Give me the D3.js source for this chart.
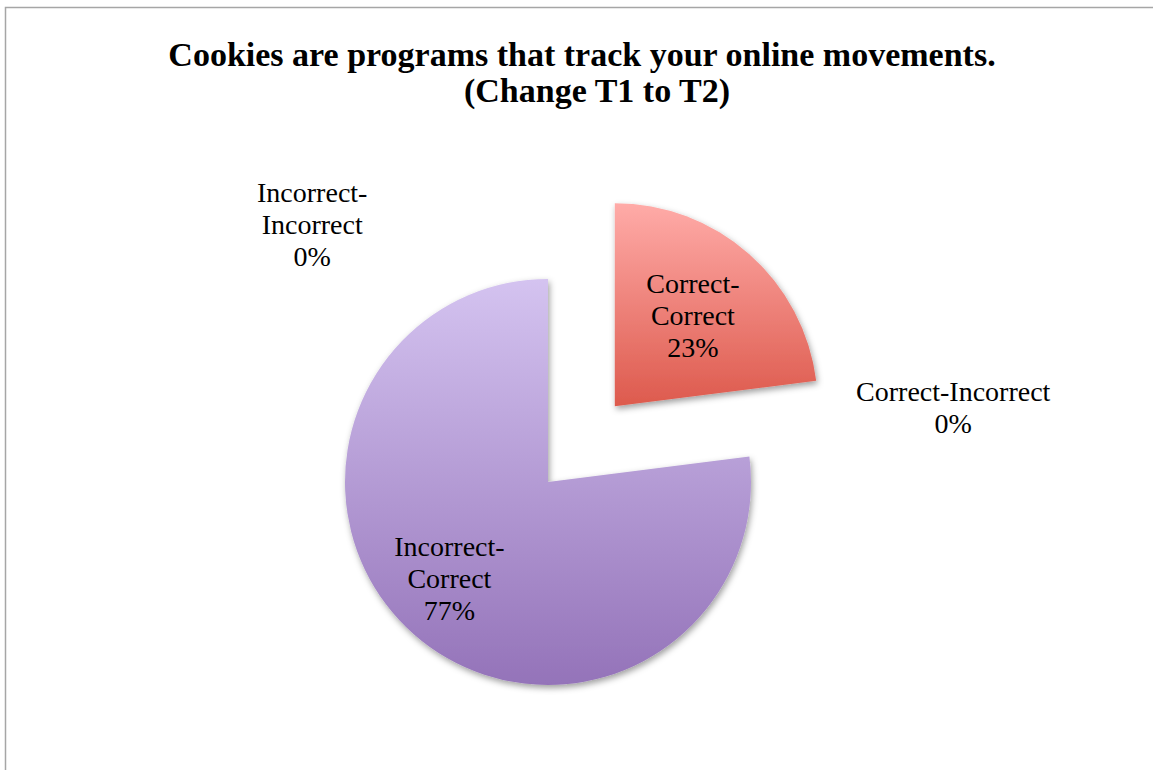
<!DOCTYPE html>
<html>
<head>
<meta charset="utf-8">
<script src="https://cdn.jsdelivr.net/npm/d3@7"></script>
<style>
  html, body { margin: 0; padding: 0; background: #fff; }
  svg { display: block; }
</style>
</head>
<body>
<svg id="chart" width="1153" height="770"></svg>
<script>
// Outcome categories (answer at T1 - answer at T2) and their shares in percent
const categories = ["Correct-Correct", "Correct-Incorrect", "Incorrect-Correct", "Incorrect-Incorrect"];
const shares = [23, 0, 77, 0];
const titleLines = ["Cookies are programs that track your online movements.", "(Change T1 to T2)"];

const W = 1153, H = 770;
const svg = d3.select("#chart");
const serif = "'Liberation Serif', 'DejaVu Serif', serif";

// Frame (only the top and left edges fall inside the view)
svg.append("path")
  .attr("d", `M5.5,${H} L5.5,7.5 L${W},7.5`)
  .attr("fill", "none")
  .attr("stroke", "#a6a6a6")
  .attr("stroke-width", 1.5);

// Title
const title = svg.append("g")
  .attr("font-family", serif)
  .attr("font-weight", "bold")
  .attr("font-size", 34)
  .attr("fill", "#000")
  .attr("text-anchor", "middle");
title.append("text").attr("x", 582).attr("y", 66).text(titleLines[0]);
title.append("text").attr("x", 597).attr("y", 102).text(titleLines[1]);

// Gradients and shadow
const defs = svg.append("defs");
const fills = {
  "Correct-Correct": ["#ffaba8", "#dd5a4d"],
  "Correct-Incorrect": ["#a9c6ef", "#5b87c9"],
  "Incorrect-Correct": ["#d4c3f0", "#9473b9"],
  "Incorrect-Incorrect": ["#c6e2a2", "#8fb85a"]
};
categories.forEach((c, i) => {
  const g = defs.append("linearGradient")
    .attr("id", "grad" + i)
    .attr("x1", 0).attr("y1", 0).attr("x2", 0).attr("y2", 1);
  g.append("stop").attr("offset", "0%").attr("stop-color", fills[c][0]);
  g.append("stop").attr("offset", "100%").attr("stop-color", fills[c][1]);
});
const shadow = defs.append("filter").attr("id", "shadow")
  .attr("x", "-20%").attr("y", "-20%").attr("width", "140%").attr("height", "140%");
shadow.append("feDropShadow")
  .attr("dx", 1.5).attr("dy", 3).attr("stdDeviation", 3)
  .attr("flood-color", "#000").attr("flood-opacity", 0.38);

// Pie layout: first slice starts at 12 o'clock, clockwise, no sorting
const cx = 548, cy = 482, R = 203;
const data = categories.map((c, i) => ({ name: c, value: shares[i], idx: i }));
const pie = d3.pie().value(d => d.value).sort(null);
const arcs = pie(data);
const arc = d3.arc().innerRadius(0).outerRadius(R);

// Exploded distance per category (the Correct-Correct slice is pulled out)
const explode = { "Correct-Correct": 101 };
function offset(a) {
  const e = explode[a.data.name] || 0;
  const mid = (a.startAngle + a.endAngle) / 2;
  return [Math.sin(mid) * e, -Math.cos(mid) * e];
}

const g = svg.append("g").attr("transform", `translate(${cx},${cy})`);
g.selectAll("path.slice")
  .data(arcs.filter(a => a.value > 0))
  .join("path")
  .attr("class", "slice")
  .attr("d", arc)
  .attr("transform", a => `translate(${offset(a)})`)
  .attr("fill", a => `url(#grad${a.data.idx})`)
  .attr("filter", "url(#shadow)");

// Data labels: name (wrapped at the hyphen) and percentage
const fmt = v => d3.format(".0%")(v / d3.sum(shares));
function labelLines(a) {
  const name = a.data.name;
  const parts = name.split("-");
  if (a.value === 0 && a.data.name === "Correct-Incorrect") return [name, fmt(a.value)];
  return [parts[0] + "-", parts[1], fmt(a.value)];
}
// Label placement: polar position (radius, angle in degrees from 12 o'clock)
const labelPos = {
  "Correct-Correct": [119, 41],
  "Correct-Incorrect": [412, 79.6],
  "Incorrect-Correct": [138, 225.6],
  "Incorrect-Incorrect": [349, 317.5]
};
const lineH = 32;
const labels = g.selectAll("text.lbl")
  .data(arcs)
  .join("text")
  .attr("class", "lbl")
  .attr("font-family", serif)
  .attr("font-size", 28)
  .attr("fill", "#000")
  .attr("text-anchor", "middle")
  .each(function(a) {
    const [r, deg] = labelPos[a.data.name];
    const th = deg * Math.PI / 180;
    const [ox, oy] = offset(a);
    const x = ox + Math.sin(th) * r;
    const y = oy - Math.cos(th) * r;
    const lines = labelLines(a);
    const y0 = y + 9 - (lines.length - 1) * lineH / 2;
    d3.select(this).selectAll("tspan")
      .data(lines)
      .join("tspan")
      .attr("x", x)
      .attr("y", (d, i) => y0 + i * lineH)
      .text(d => d);
  });
</script>
</body>
</html>
